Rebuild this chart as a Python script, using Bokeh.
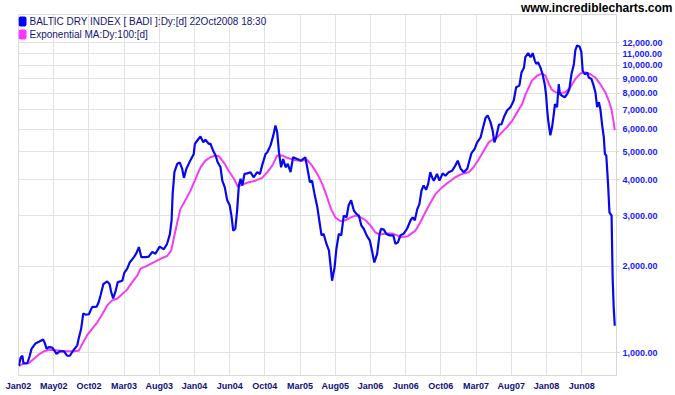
from bokeh.plotting import figure
from bokeh.models import Range1d, NumeralTickFormatter, Label, BoxAnnotation
from bokeh.embed import file_html
from bokeh.resources import INLINE

# x axis: trading-day index, tick every 100 bars
tick_bars = [0, 100, 200, 300, 400, 500, 600, 700, 800, 900, 1000, 1100, 1200, 1300, 1400, 1500, 1600]
tick_labels = ["Jan02", "May02", "Oct02", "Mar03", "Aug03", "Jan04", "Jun04", "Oct04", "Mar05",
               "Aug05", "Jan06", "Jun06", "Oct06", "Mar07", "Aug07", "Jan08", "Jun08"]
y_ticks = [1000, 2000, 3000, 4000, 5000, 6000, 7000, 8000, 9000, 10000, 11000, 12000]

badi_bar = [1, 6, 11, 14, 25, 32, 37, 48, 58, 70, 74, 80, 86, 96, 102, 108, 117, 129, 138, 146,
            155, 167, 171, 178, 184, 190, 200, 209, 222, 228, 233, 241, 252, 259, 263, 269, 276, 282, 295, 301,
            309, 316, 328, 335, 342, 349, 361, 370, 380, 389, 401, 413, 422, 430, 435, 438, 443, 451, 458, 465,
            470, 477, 489, 498, 501, 508, 517, 525, 531, 541, 545, 553, 560, 566, 574, 579, 586, 593, 600, 605,
            610, 616, 621, 626, 631, 636, 642, 650, 659, 668, 678, 686, 692, 702, 707, 716, 724, 730, 735, 740,
            746, 752, 759, 765, 773, 780, 792, 803, 815, 822, 828, 834, 841, 849, 856, 861, 867, 875, 882, 886,
            891, 898, 903, 910, 917, 924, 932, 938, 945, 953, 960, 967, 974, 981, 989, 998, 1005, 1011, 1019, 1026,
            1030, 1038, 1045, 1055, 1065, 1071, 1078, 1085, 1095, 1104, 1114, 1120, 1126, 1133, 1139, 1145, 1151, 1158, 1164,
            1170, 1175, 1180, 1189, 1196, 1205, 1213, 1222, 1232, 1241, 1248, 1256, 1265, 1275, 1281, 1287, 1296, 1303,
            1313, 1319, 1327, 1333, 1341, 1347, 1352, 1357, 1365, 1372, 1379, 1388, 1398, 1407, 1414, 1423, 1429, 1436,
            1440, 1448, 1455, 1461, 1467, 1471, 1476, 1483, 1489, 1495, 1499, 1502, 1505, 1509, 1511, 1516, 1521, 1524,
            1530, 1535, 1538, 1544, 1552, 1559, 1565, 1571, 1578, 1582, 1587, 1594, 1599, 1603, 1609, 1616, 1620, 1628,
            1634, 1639, 1644, 1649, 1653, 1658, 1663, 1666, 1670, 1675, 1679, 1685, 1688, 1691, 1694]
badi_val = [900, 960, 975, 918, 918, 975, 1030, 1075, 1090, 1110, 1085, 1030, 1045, 1040, 1015, 990, 1010, 1010, 975, 975,
            1015, 1060, 1120, 1210, 1370, 1355, 1360, 1440, 1445, 1500, 1580, 1730, 1770, 1730, 1630, 1545, 1640, 1760, 1780, 1900,
            1960, 2060, 2150, 2220, 2330, 2150, 2150, 2160, 2240, 2210, 2340, 2290, 2390, 2580, 2890, 3570, 4250, 4540, 4600, 4370,
            4060, 4370, 4690, 4920, 5330, 5480, 5660, 5400, 5510, 5330, 5350, 5050, 4860, 4600, 4420, 3970, 3770, 3390, 3260, 3000,
            2660, 2700, 3110, 3820, 4030, 3820, 4190, 4210, 4250, 4080, 4250, 4190, 4480, 4920, 4990, 5270, 5710, 6180, 5860, 4990,
            4420, 4720, 4420, 4540, 4250, 4790, 4720, 4660, 4790, 4300, 3920, 3970, 3570, 3210, 2810, 2560, 2590, 2390, 2270, 2040,
            1780, 1980, 2290, 2590, 2560, 3000, 2960, 3260, 3390, 3120, 3040, 3000, 2770, 2700, 2560, 2460, 2240, 2060, 2210, 2590,
            2700, 2680, 2590, 2560, 2560, 2390, 2420, 2560, 2600, 2700, 2890, 2960, 2890, 3160, 3290, 3670, 3820, 3690, 3870,
            4250, 4080, 3970, 4190, 3970, 4210, 4130, 4250, 4300, 4480, 4660, 4370, 4250, 4370, 4660, 4950, 5120, 5400,
            5620, 6020, 6570, 6700, 6350, 5950, 5400, 5620, 6230, 6230, 6600, 6970, 7160, 7550, 8400, 8510, 9450, 9830,
            10690, 11040, 10690, 11040, 10400, 10130, 10270, 9830, 9320, 8610, 7890, 7000, 6430, 5950, 5710, 6100, 6790, 7340,
            7160, 8610, 7960, 7850, 7750, 7960, 8270, 9320, 10130, 11300, 11740, 11640, 11170, 9570, 9320, 9450, 9080, 8970,
            8510, 8070, 7160, 7450, 7070, 6240, 5620, 4920, 4860, 3870, 3080, 3000, 1830, 1440, 1240]

ema_bar = [1, 15, 29, 43, 58, 72, 86, 100, 119, 138, 157, 171, 181, 195, 209, 224, 238, 252, 266, 280,
           295, 309, 323, 337, 347, 366, 384, 403, 422, 434, 441, 451, 460, 474, 489, 503, 517, 531, 545, 560,
           569, 583, 597, 612, 623, 636, 654, 673, 692, 707, 721, 735, 749, 763, 782, 801, 820, 834, 849, 863,
           877, 888, 901, 915, 929, 943, 957, 972, 986, 1000, 1014, 1026, 1043, 1062, 1076, 1085, 1105, 1128, 1142, 1156,
           1170, 1185, 1204, 1222, 1241, 1260, 1279, 1293, 1308, 1322, 1336, 1346, 1360, 1374, 1388, 1403, 1417, 1431, 1440, 1450,
           1459, 1474, 1488, 1497, 1507, 1516, 1526, 1540, 1554, 1568, 1582, 1597, 1611, 1625, 1639, 1653, 1667, 1677, 1685, 1691, 1694]
ema_val = [900, 915, 918, 950, 985, 1010, 1020, 1020, 1015, 1010, 1010, 1015, 1070, 1150, 1210, 1275, 1360, 1460, 1520, 1540,
           1600, 1660, 1760, 1850, 1960, 2010, 2060, 2120, 2170, 2270, 2490, 2840, 3160, 3390, 3670, 4030, 4420, 4660, 4790, 4860,
           4830, 4600, 4300, 4030, 3790, 3850, 3920, 3970, 4060, 4250, 4480, 4860, 4860, 4770, 4690, 4660, 4690, 4480, 4190, 3870,
           3470, 3160, 2950, 2870, 2890, 2950, 3000, 2960, 2890, 2770, 2620, 2580, 2600, 2600, 2560, 2520, 2540, 2660, 2850, 3080,
           3320, 3570, 3770, 3920, 4080, 4190, 4250, 4420, 4720, 5050, 5400, 5510, 5620, 5860, 6100, 6430, 6880, 7340, 7900, 8400,
           8870, 9230, 9370, 9230, 8610, 8220, 8070, 8010, 8070, 8400, 8970, 9390, 9450, 9320, 9080, 8610, 8070, 7550, 7000, 6350, 5950]

GRID = "#e2e2e2"

p = figure(width=675, height=395, x_range=Range1d(0, 1699), y_range=Range1d(832, 15054),
           y_axis_type="log", y_axis_location="right",
           output_backend="svg", toolbar_location=None,
           min_border_left=18, min_border_right=59, min_border_top=14, min_border_bottom=20)
p.background_fill_color = "white"
p.border_fill_color = "white"
p.outline_line_color = "#dadada"

p.xaxis.ticker = tick_bars
p.xaxis.major_label_overrides = {b: l for b, l in zip(tick_bars, tick_labels)}
p.xaxis.axis_line_color = None
p.xaxis.major_tick_line_color = None
p.xaxis.minor_tick_line_color = None
p.xaxis.major_tick_out = 0
p.xaxis.major_label_standoff = 5
p.xaxis.major_label_text_font = "Liberation Sans"
p.xaxis.major_label_text_font_style = "bold"
p.xaxis.major_label_text_font_size = "9px"
p.xaxis.major_label_text_color = "#10107c"

p.yaxis.ticker = y_ticks
p.yaxis.formatter = NumeralTickFormatter(format="0,0.00")
p.yaxis.axis_line_color = "#d6d6d6"
p.yaxis.major_tick_line_color = "#d6d6d6"
p.yaxis.minor_tick_line_color = None
p.yaxis.major_tick_out = 3
p.yaxis.major_tick_in = 0
p.yaxis.major_label_standoff = 3
p.yaxis.major_label_text_font = "Liberation Sans"
p.yaxis.major_label_text_font_style = "bold"
p.yaxis.major_label_text_font_size = "9px"
p.yaxis.major_label_text_color = "#1a1aff"

p.xgrid.grid_line_color = GRID
p.ygrid.grid_line_color = GRID
p.xgrid.minor_grid_line_color = None
p.ygrid.minor_grid_line_color = None

p.line(ema_bar, ema_val, line_color="#f53cf5", line_width=2)
p.line(badi_bar, badi_val, line_color="#0808ee", line_width=2.2)

# legend (canvas units: pixels from the top-left corner of the figure)
for col, top in [("#0000ff", 16), ("#ff33ff", 29)]:
    p.add_layout(BoxAnnotation(left=18, right=26, top=top, bottom=top + 10,
                               left_units="canvas", right_units="canvas", top_units="canvas", bottom_units="canvas",
                               fill_color=col, fill_alpha=1, line_color=None, border_radius=2, level="overlay"))
for txt, x, y in [("BALTIC DRY INDEX [ BADI ]:Dy:[d]", 29, 21), ("22Oct2008 18:30", 189, 21),
                  ("Exponential MA:Dy:100:[d]", 29, 34)]:
    p.add_layout(Label(x=x, y=y, x_units="canvas", y_units="canvas", text=txt,
                       text_font="Liberation Sans", text_font_size="10px", text_color="#14147a",
                       text_baseline="middle", text_align="left"))
# watermark lives in the top side panel so it is not clipped to the plot frame
p.add_layout(Label(x=672, y=7, x_units="canvas", y_units="canvas", text="www.incrediblecharts.com",
                   text_font="Liberation Sans", text_font_size="12px", text_font_style="bold",
                   text_color="black", text_baseline="middle", text_align="right"), "above")

open("out.html", "w").write(file_html(p, INLINE))
